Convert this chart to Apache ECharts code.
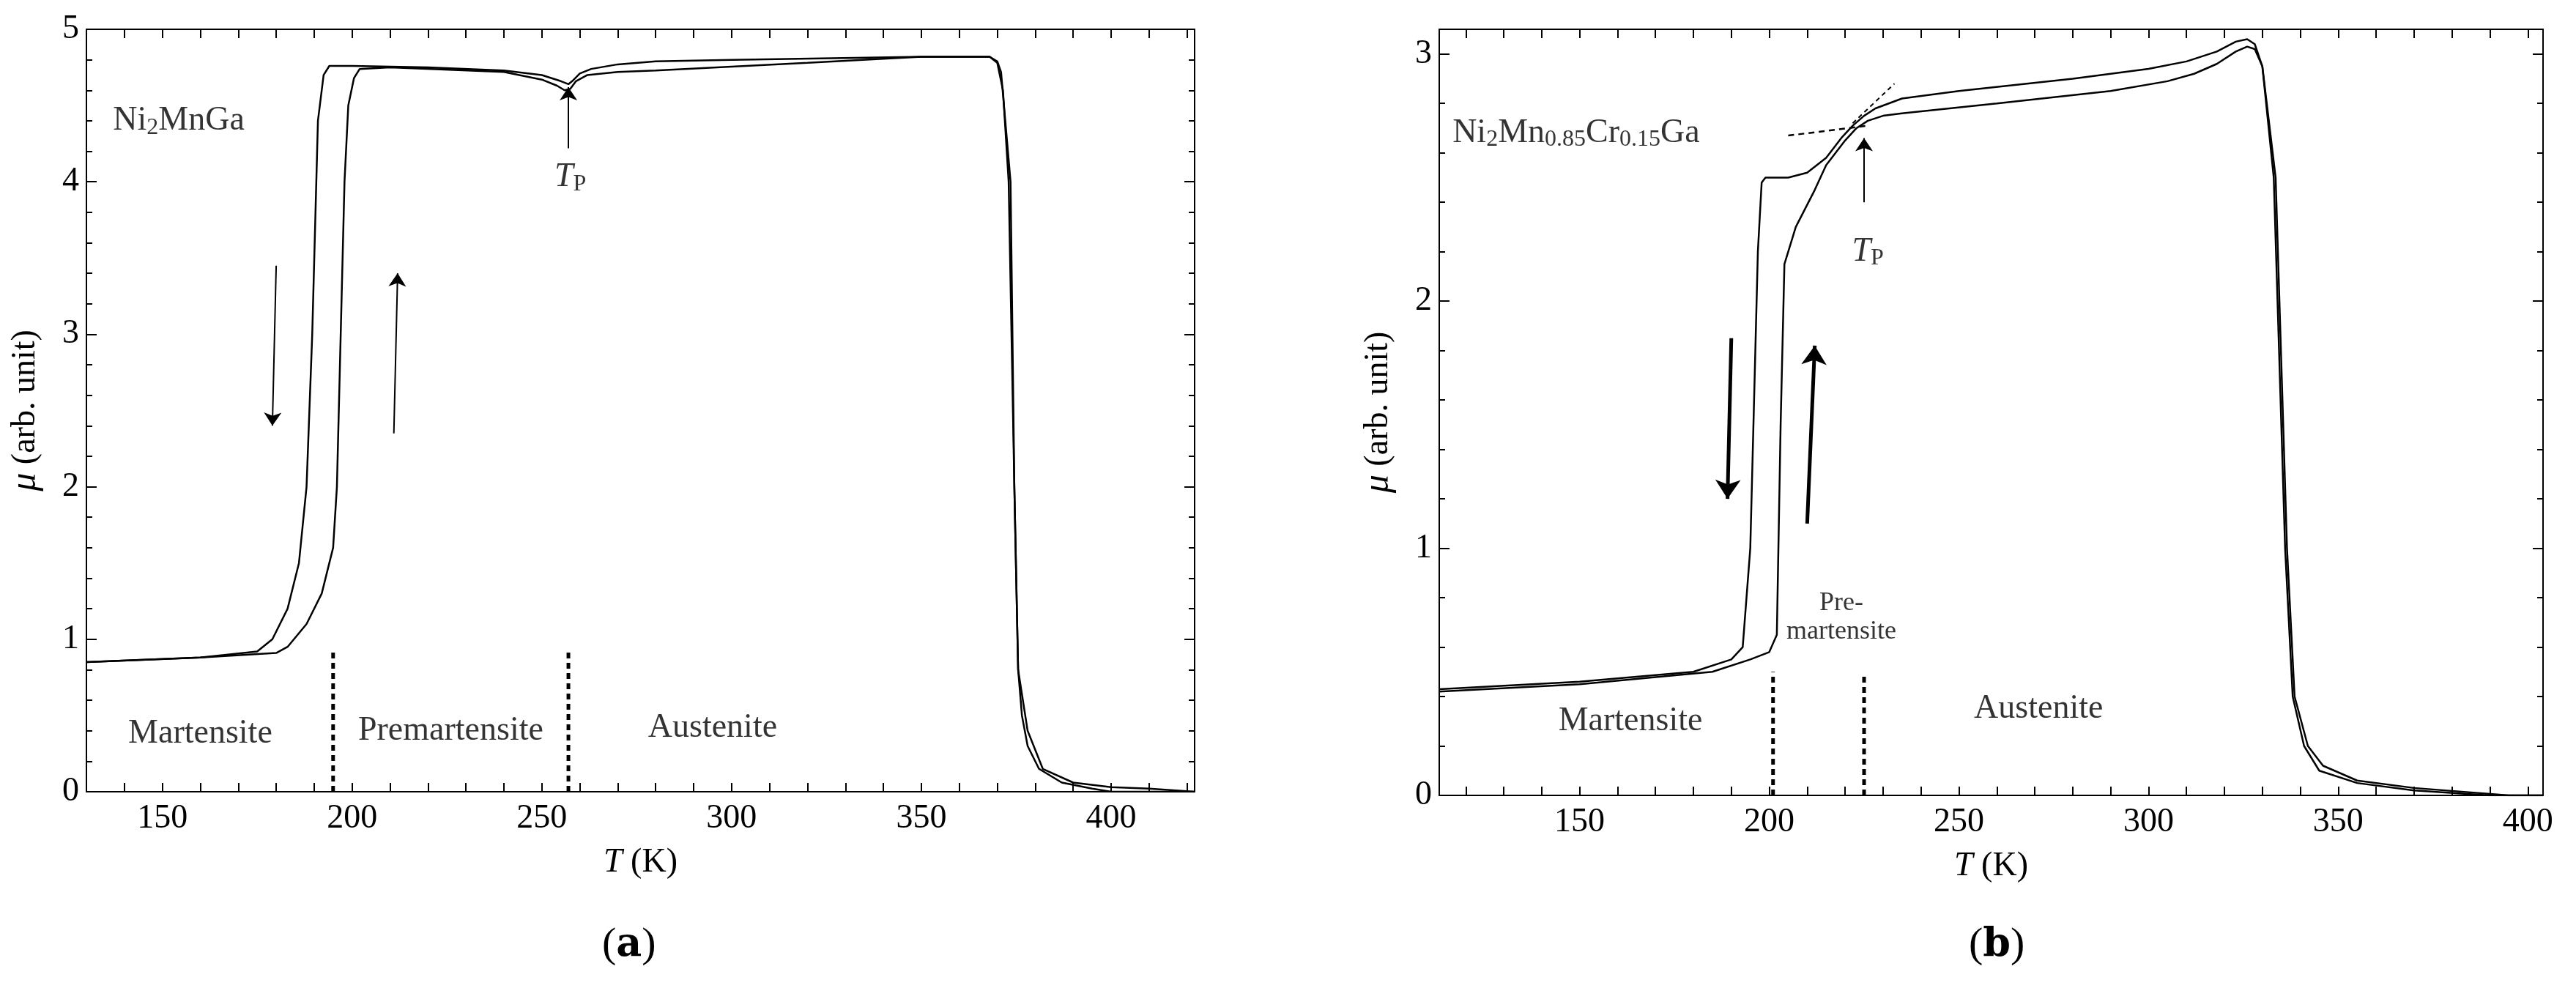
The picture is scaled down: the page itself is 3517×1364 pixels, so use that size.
<!DOCTYPE html>
<html><head><meta charset="utf-8">
<script src="https://cdn.jsdelivr.net/npm/echarts@6/dist/echarts.min.js"></script>
<style>html,body{margin:0;background:#fff}#c{width:3517px;height:1364px}</style>
</head><body><div id="c"></div>
<script>
// Panel (a) Ni2MnGa
const aCool = [[422,0],[410,0.02],[400,0.03],[390,0.06],[382,0.15],[378,0.4],[375.5,0.8],[374.5,2],[373,4],[371.5,4.6],[370,4.78],[368,4.82],[350,4.82],[300,4.8],[280,4.79],[270,4.77],[263,4.74],[260,4.71],[258,4.66],[257,4.64],[255,4.66],[250,4.7],[240,4.73],[220,4.75],[200,4.76],[194,4.76],[192.5,4.7],[191,4.4],[189.5,3],[188,2],[186,1.5],[183,1.2],[179,1.0],[175,0.92],[160,0.88],[130,0.85]];
const aHeat = [[130,0.85],[160,0.88],[180,0.91],[183,0.95],[188,1.1],[192,1.3],[195,1.6],[196,2],[197,3],[198,4],[199,4.5],[200.5,4.68],[202,4.74],[210,4.75],[240,4.72],[250,4.67],[254,4.63],[256,4.6],[257.5,4.61],[259,4.66],[262,4.7],[270,4.72],[280,4.73],[320,4.78],[350,4.82],[368,4.82],[370,4.79],[371,4.72],[373.5,4],[374.5,2],[375.5,0.8],[376.5,0.5],[378,0.3],[381,0.15],[387,0.06],[395,0.02],[400,0],[422,0]];
// Panel (b) Ni2Mn0.85Cr0.15Ga
const bCool = [[113,0.43],[150,0.46],[180,0.5],[190,0.55],[193,0.6],[195,1],[197,2.2],[198,2.48],[199,2.5],[205,2.5],[210,2.52],[215,2.58],[219,2.66],[222,2.71],[225,2.75],[228,2.78],[235,2.82],[250,2.85],[280,2.9],[300,2.94],[310,2.97],[318,3.01],[323,3.05],[326,3.06],[328,3.04],[330,2.95],[333,2.5],[336,1],[338,0.4],[341,0.2],[345,0.1],[355,0.05],[370,0.02],[390,0],[404,0]];
const bHeat = [[113,0.42],[150,0.45],[185,0.5],[195,0.55],[200,0.58],[202,0.65],[203,1.5],[204,2.15],[207,2.3],[212,2.45],[215,2.55],[220,2.65],[223,2.7],[226,2.73],[230,2.75],[235,2.76],[260,2.8],[290,2.85],[305,2.89],[312,2.92],[318,2.96],[323,3.01],[326,3.03],[328,3.02],[330,2.95],[333.5,2.5],[336.5,1],[338.5,0.4],[342,0.2],[346,0.12],[355,0.06],[370,0.03],[395,0],[404,0]];
const bTickVals = [120,130,140,150,160,170,180,190,200,210,220,230,240,250,260,270,280,290,300,310,320,330,340,350,360,370,380,390,400];
const bLabelVals = [150,200,250,300,350,400];

const F = 'Liberation Serif';
const FS = 46;
const black = '#000';
function xMain(gi,min,max,custom){const a={gridIndex:gi,type:'value',min,max,interval:10,position:'bottom',
  name:'{i|T} (K)',nameLocation:'middle',nameGap:74,nameTextStyle:{fontFamily:F,fontSize:FS,color:black,rich:{i:{fontStyle:'italic',fontFamily:F,fontSize:FS}}},
  axisLine:{onZero:false,lineStyle:{color:black,width:2}},
  axisTick:{inside:true,length:12,lineStyle:{width:2}},
  splitLine:{show:false},
  axisLabel:{fontFamily:F,fontSize:FS,color:black,margin:14,formatter:v=>(v%50===0?String(v):'')}};
  if(custom){a.axisTick.customValues=bTickVals;a.axisLabel.customValues=bLabelVals;}
  return a;}
function xTop(gi,min,max,custom){const a={gridIndex:gi,type:'value',min,max,interval:10,position:'top',
  axisLine:{onZero:false,lineStyle:{color:black,width:2}},axisTick:{inside:true,length:12,lineStyle:{width:2}},
  splitLine:{show:false},axisLabel:{show:false}};
  if(custom){a.axisTick.customValues=bTickVals;}
  return a;}
function yMain(gi,max){return {gridIndex:gi,type:'value',min:0,max,interval:1,position:'left',
  name:'{i|μ} (arb. unit)',nameLocation:'middle',nameGap:58,nameRotate:90,
  nameTextStyle:{fontFamily:F,fontSize:FS,color:black,rich:{i:{fontStyle:'italic',fontFamily:F,fontSize:FS+4}}},
  axisLine:{onZero:false,lineStyle:{color:black,width:2}},axisTick:{inside:true,length:14,lineStyle:{width:2}},
  minorTick:{show:true,splitNumber:5,length:8,lineStyle:{color:black,width:2}},
  splitLine:{show:false},axisLabel:{fontFamily:F,fontSize:FS,color:black,margin:10}};}
function yRight(gi,max){return {gridIndex:gi,type:'value',min:0,max,interval:1,position:'right',
  axisLine:{onZero:false,lineStyle:{color:black,width:2}},axisTick:{inside:true,length:14,lineStyle:{width:2}},
  minorTick:{show:true,splitNumber:5,length:8,lineStyle:{color:black,width:2}},
  splitLine:{show:false},axisLabel:{show:false}};}

function seg(pts,xi,yi,opts){return Object.assign({type:'line',xAxisIndex:xi,yAxisIndex:yi,data:pts,showSymbol:false,symbol:'none',
  lineStyle:{color:black,width:2.5},silent:true,animation:false},opts||{});}
function arrow(p0,p1,xi,yi,w,s){return {type:'lines',coordinateSystem:'cartesian2d',xAxisIndex:xi,yAxisIndex:yi,
  symbol:['none','arrow'],symbolSize:s||18,lineStyle:{color:black,width:w||2,opacity:1},data:[{coords:[p0,p1]}],animation:false};}
function texts(items,xi,yi){return {type:'scatter',xAxisIndex:xi,yAxisIndex:yi,symbolSize:0,animation:false,silent:true,
  data:items.map(t=>({value:[t[0],t[1]],label:{show:true,position:'inside',formatter:t[2],fontFamily:F,fontSize:t[3]||FS,color:black,align:t[4]||'center',lineHeight:(t[3]||FS)*1.1,
  rich:{s:{fontFamily:F,fontSize:32,verticalAlign:'bottom',padding:[16,0,0,0]},i:{fontFamily:F,fontStyle:'italic',fontSize:FS}}}}))};}

const dash = {lineStyle:{color:black,width:5,type:[8,6]}};
const opt = {
  backgroundColor:'#fff',
  grid:[{left:118,right:1886,top:40,bottom:283},{left:1965,right:45,top:40,bottom:278}],
  xAxis:[xMain(0,130,422,false),xTop(0,130,422,false),xMain(1,113,404,true),xTop(1,113,404,true)],
  yAxis:[yMain(0,5),yRight(0,5),yMain(1,3.1),yRight(1,3.1)],
  graphic:[
    {type:'text',left:822,top:1262,style:{text:'({b|a})',font:'58px "Liberation Serif"',fill:black,rich:{b:{fontWeight:'bold',fontFamily:'DejaVu Serif',fontSize:54}}}},
    {type:'text',left:2688,top:1262,style:{text:'({b|b})',font:'58px "Liberation Serif"',fill:black,rich:{b:{fontWeight:'bold',fontFamily:'DejaVu Serif',fontSize:54}}}}
  ],
  series:[
    seg(aCool,0,0),seg(aHeat,0,0),
    seg(bCool,2,2),seg(bHeat,2,2),
    seg([[195,0],[195,0.92]],0,0,dash),
    seg([[257,0],[257,0.92]],0,0,dash),
    seg([[201,0],[201,0.5]],2,2,dash),
    seg([[225,0],[225,0.48]],2,2,dash),
    seg([[205,2.67],[226,2.71]],2,2,{lineStyle:{color:black,width:2.5,type:[8,6]}}),
    seg([[222,2.72],[233,2.88]],2,2,{lineStyle:{color:black,width:2,type:[6,5]}}),
    arrow([180,3.45],[179,2.4],0,0,2,18),
    arrow([211,2.35],[212,3.4],0,0,2,18),
    arrow([257,4.22],[257,4.62],0,0,2,18),
    arrow([190,1.85],[189,1.2],2,2,5,26),
    arrow([210,1.1],[212,1.82],2,2,5,26),
    arrow([225,2.4],[225,2.66],2,2,2,18),
    texts([[137,4.4,'Ni{s|2}MnGa',FS,'left'],[160,0.38,'Martensite'],[226,0.4,'Premartensite'],[295,0.42,'Austenite'],[257.5,4.03,'{i|T}{s|P}']],0,0),
    texts([[116.5,2.68,'Ni{s|2}Mn{s|0.85}Cr{s|0.15}Ga',FS,'left'],[163.4,0.3,'Martensite'],[219,0.72,'Pre-\nmartensite',36],[271,0.35,'Austenite'],[226,2.2,'{i|T}{s|P}']],2,2)
  ]
};
const ch = echarts.init(document.getElementById('c'));
ch.setOption(opt);
</script></body></html>
